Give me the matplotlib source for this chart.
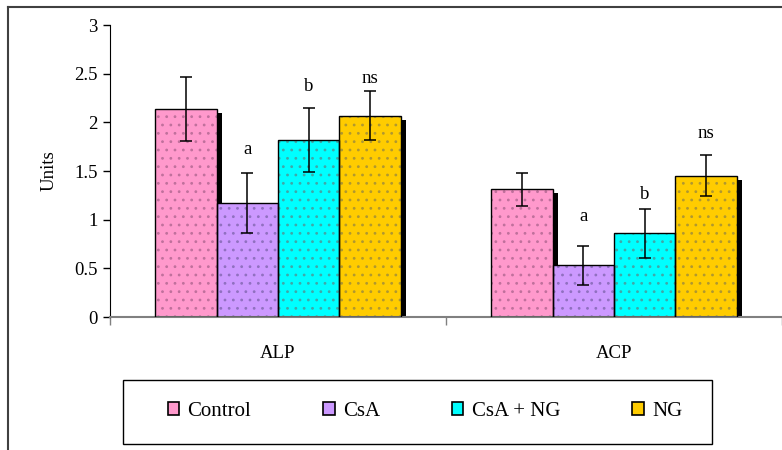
import numpy as np
import matplotlib
matplotlib.use("Agg")
import matplotlib.pyplot as plt
from matplotlib.transforms import ScaledTranslation
from matplotlib.patches import Rectangle, Patch
from matplotlib.lines import Line2D

plt.rcParams['font.family'] = ['Liberation Serif', 'DejaVu Serif']
plt.rcParams['hatch.linewidth'] = 0.8

# data
groups = ['ALP', 'ACP']
series = ['Control', 'CsA', 'CsA + NG', 'NG']
values = {
    'Control':  [2.14, 1.31],
    'CsA':      [1.17, 0.53],
    'CsA + NG': [1.82, 0.86],
    'NG':       [2.07, 1.45],
}
errors = {
    'Control':  [0.33, 0.17],
    'CsA':      [0.31, 0.20],
    'CsA + NG': [0.33, 0.25],
    'NG':       [0.25, 0.21],
}
sig_labels = {
    'Control':  ['', ''],
    'CsA':      ['a', 'a'],
    'CsA + NG': ['b', 'b'],
    'NG':       ['ns', 'ns'],
}
# gap (points) between the top of the error bar and the letter
sig_gap = {
    'Control':  [0, 0],
    'CsA':      [11, 15],
    'CsA + NG': [9, 4],
    'NG':       [3, 10],
}

colors = ['#FF99CC', '#CC99FF', '#00FFFF', '#FFCC00']
dot_colors = ['#C0709C', '#9070C0', '#40A8A8', '#B09830']

fig = plt.figure(figsize=(7.82, 4.5), dpi=100)
ax = fig.add_axes([110 / 782, 1 - 317 / 450, 672 / 782, 292 / 450])

x = np.arange(len(groups))
width = 0.183
offsets = (np.arange(len(series)) - 1.5) * width

# drop shadows first, shifted right/down
shadow_tr = ax.transData + ScaledTranslation(5 / 100, -4 / 100, fig.dpi_scale_trans)
for i, s in enumerate(series):
    bars = ax.bar(x + offsets[i], values[s], width, color='black', linewidth=0, zorder=1)
    for b in bars:
        b.set_transform(shadow_tr)

for i, s in enumerate(series):
    # dotted fill
    ax.bar(x + offsets[i], values[s], width, color=colors[i], edgecolor=dot_colors[i],
           hatch='..', linewidth=0, zorder=2)
    # outline
    ax.bar(x + offsets[i], values[s], width, fill=False, edgecolor='black',
           linewidth=1.0, zorder=3)
    ax.errorbar(x + offsets[i], values[s], yerr=errors[s], fmt='none', ecolor='black',
                elinewidth=1.1, capsize=4.5, capthick=1.1, zorder=4)
    for j in range(len(groups)):
        if sig_labels[s][j]:
            ax.annotate(sig_labels[s][j], (x[j] + offsets[i], values[s][j] + errors[s][j]),
                        xytext=(0, sig_gap[s][j]), textcoords='offset points',
                        ha='center', va='bottom', fontsize=13.5)

ax.set_xlim(-0.5, 1.47)
ax.set_ylim(0, 3)
ax.set_yticks(np.arange(0, 3.01, 0.5))
ax.set_yticklabels(['0', '0.5', '1', '1.5', '2', '2.5', '3'])
ax.tick_params(axis='y', direction='out', length=5, width=1, labelsize=13.5, pad=4)

ax.set_xticks([-0.5, 0.5, 1.5])
ax.set_xticklabels([])
ax.tick_params(axis='x', which='major', direction='out', length=6, width=1, color='#808080')
ax.set_xticks(x, minor=True)
ax.set_xticklabels(groups, minor=True)
ax.tick_params(axis='x', which='minor', length=0, labelsize=13.5, pad=20)

ax.set_ylabel('Units', fontsize=13.5, labelpad=12)

ax.spines['top'].set_visible(False)
ax.spines['right'].set_visible(False)
ax.spines['left'].set_color('black')
ax.spines['bottom'].set_color('#808080')
ax.spines['bottom'].set_linewidth(1.5)

# legend with its own box
handles = [Patch(facecolor=colors[i], edgecolor='black', linewidth=1.2) for i in range(len(series))]
fig.legend(handles, series, loc='center', bbox_to_anchor=(425 / 782, 1 - 411 / 450),
           ncol=4, frameon=False, fontsize=15, handlelength=0.55, handleheight=0.6,
           handletextpad=0.4, columnspacing=3.45)
fig.patches.append(Rectangle((123 / 782, 1 - 444 / 450), 589 / 782, 64 / 450,
                             transform=fig.transFigure, fill=False,
                             edgecolor='black', linewidth=1.0))

# outer chart border (left and top visible)
fig.lines.append(Line2D([8 / 782, 8 / 782], [0, 1 - 7 / 450], transform=fig.transFigure,
                        color='#404040', linewidth=1.5))
fig.lines.append(Line2D([8 / 782, 1], [1 - 7 / 450, 1 - 7 / 450], transform=fig.transFigure,
                        color='#404040', linewidth=1.5))

fig.savefig('out.png', dpi=100)
